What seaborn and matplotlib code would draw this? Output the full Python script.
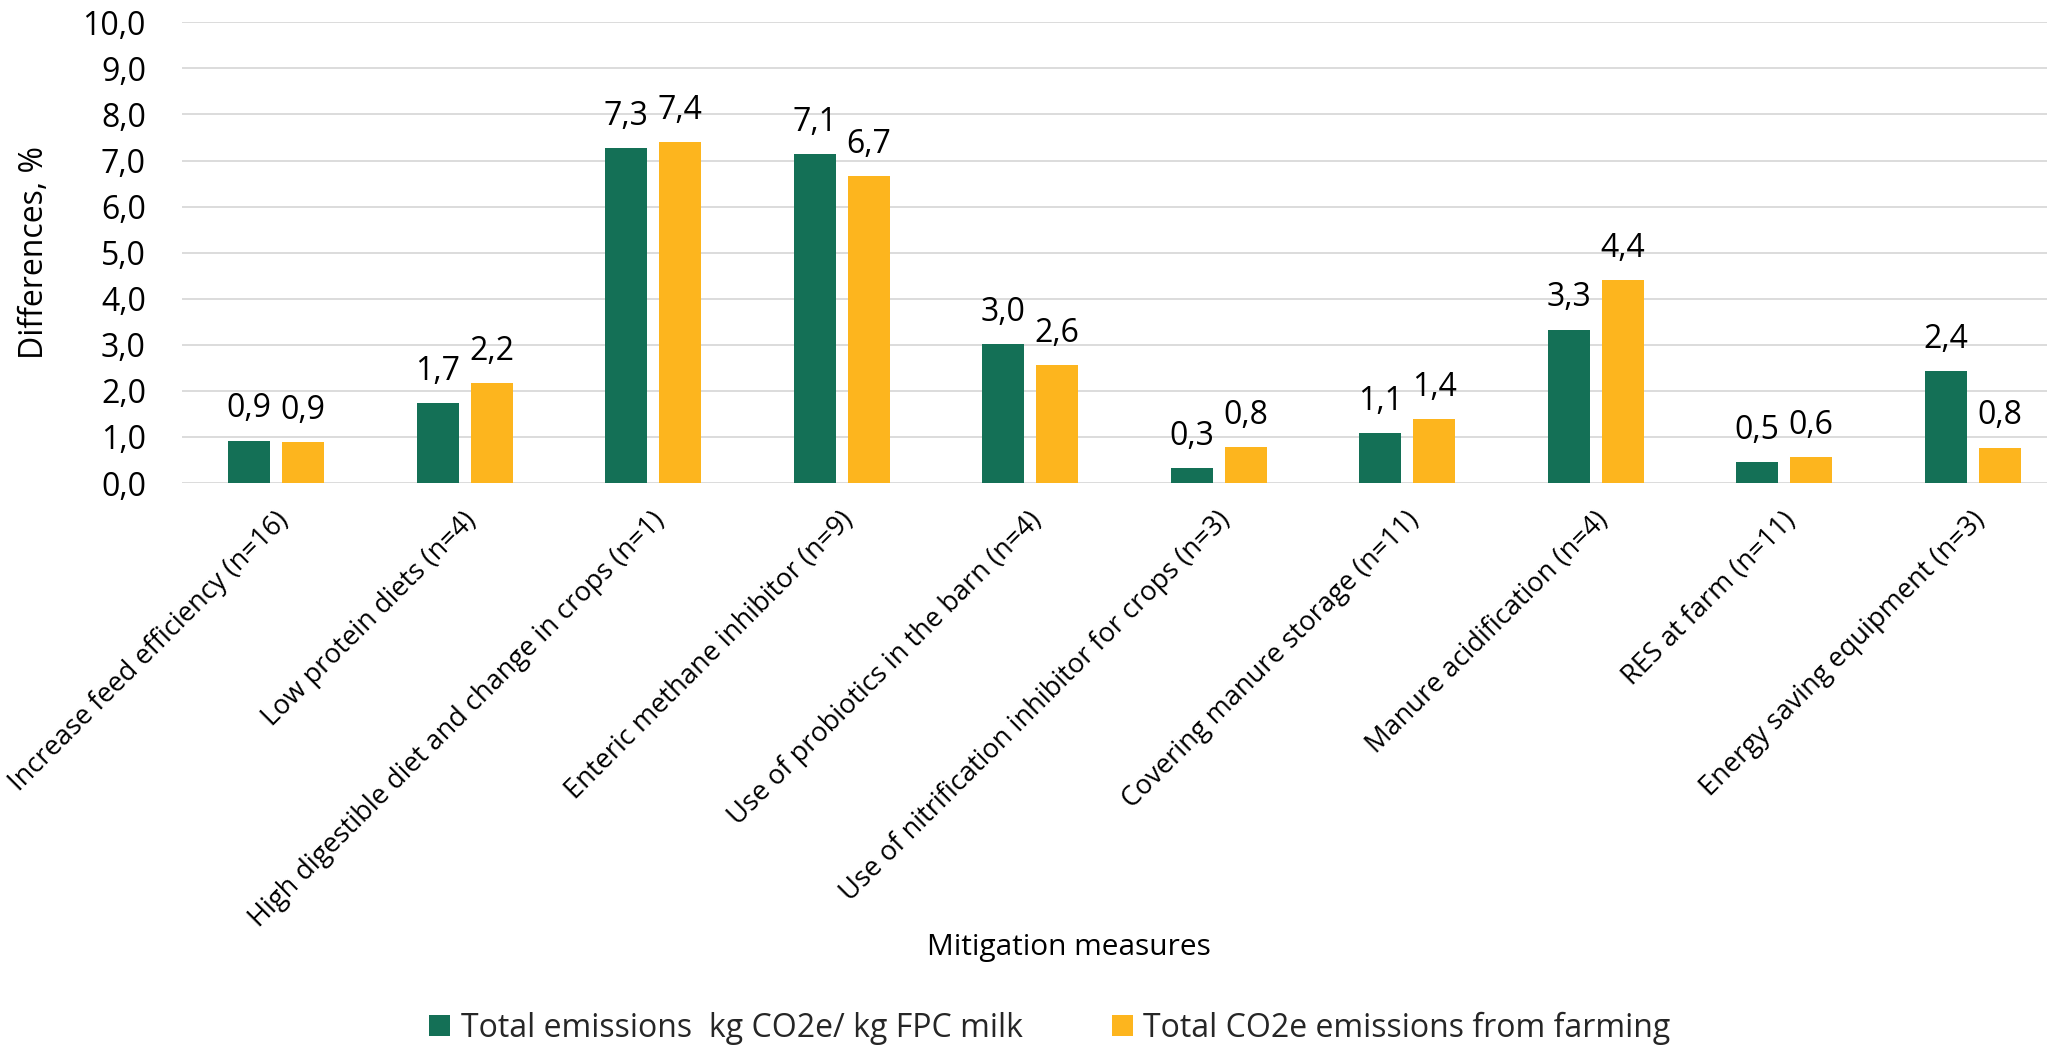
import matplotlib
matplotlib.use("Agg")
import matplotlib.pyplot as plt
import matplotlib.transforms as mtransforms
from matplotlib.patches import Patch
import seaborn as sns
import pandas as pd

# Mitigation measures and their reductions (%)
measures = [
    "Increase feed efficiency (n=16)",
    "Low protein diets (n=4)",
    "High digestible diet and change in crops (n=1)",
    "Enteric methane inhibitor (n=9)",
    "Use of probiotics in the barn (n=4)",
    "Use of nitrification inhibitor for crops (n=3)",
    "Covering manure storage (n=11)",
    "Manure acidification (n=4)",
    "RES at farm (n=11)",
    "Energy saving equipment (n=3)",
]
series_names = [
    "Total emissions  kg CO2e/ kg FPC milk",
    "Total CO2e emissions from farming",
]
per_kg_milk = [0.92, 1.74, 7.27, 7.14, 3.02, 0.33, 1.08, 3.33, 0.46, 2.43]
farm_total = [0.88, 2.16, 7.40, 6.66, 2.56, 0.78, 1.39, 4.40, 0.56, 0.77]
y_ticks = [0, 1, 2, 3, 4, 5, 6, 7, 8, 9, 10]

colors = ["#147056", "#FDB51E"]

df = pd.DataFrame({
    "measure": measures * 2,
    "series": [series_names[0]] * len(measures) + [series_names[1]] * len(measures),
    "value": per_kg_milk + farm_total,
})

sns.set_theme(style="white")
plt.rcParams["font.family"] = ["Open Sans", "DejaVu Sans"]

W, H = 2047, 1047
fig = plt.figure(figsize=(W / 100, H / 100), dpi=100)
ax_left, ax_right, ax_top, ax_bottom = 182, 2067, 22.3, 483
ax = fig.add_axes([ax_left / W, 1 - ax_bottom / H,
                   (ax_right - ax_left) / W, (ax_bottom - ax_top) / H])

sns.barplot(data=df, x="measure", y="value", hue="series",
            hue_order=series_names, palette=colors, order=measures,
            width=0.573, gap=0.222, linewidth=0, edgecolor="none",
            saturation=1, errorbar=None, legend=False, ax=ax, zorder=3)

ax.set_xlim(-0.5, len(measures) - 0.5)
ax.set_ylim(0, 10)
ax.set_yticks(y_ticks)
ax.set_yticklabels([f"{v:.1f}".replace(".", ",") for v in y_ticks], fontsize=23)
ax.grid(axis="y", color="#D9D9D9", linewidth=1.3, zorder=0)
ax.grid(axis="x", visible=False)
for s in ax.spines.values():
    s.set_visible(False)
ax.tick_params(axis="y", length=0, pad=26, colors="black")
ax.tick_params(axis="x", length=0, pad=24, colors="black")

# value labels above every bar
for cont in ax.containers:
    ax.bar_label(cont, labels=[f"{b.get_height():.1f}".replace(".", ",") for b in cont],
                 padding=11, fontsize=23, color="black")

# rotated category labels
offset = mtransforms.ScaledTranslation(8 / 100, 0, fig.dpi_scale_trans)
for lbl in ax.get_xticklabels():
    lbl.set_rotation(45)
    lbl.set_ha("right")
    lbl.set_va("center")
    lbl.set_rotation_mode("anchor")
    lbl.set_fontsize(19.5)
    lbl.set_transform(lbl.get_transform() + offset)

ax.set_xlabel("")
ax.set_ylabel("Differences, %", fontsize=23, color="black")
ax.yaxis.set_label_coords((51 - ax_left) / (ax_right - ax_left), 0.5)

fig.text(1069 / W, 1 - 955 / H, "Mitigation measures", fontsize=21.5,
         ha="center", va="baseline", color="black")

handles = [Patch(facecolor=c, edgecolor="none") for c in colors]
fig.legend(handles, series_names, loc="center", ncol=2,
           bbox_to_anchor=(1050 / W, 1 - 1028 / H), frameon=False,
           fontsize=23, handlelength=0.65, handleheight=0.65,
           handletextpad=0.33, columnspacing=2.8, borderpad=0, borderaxespad=0)

fig.savefig("out.png", dpi=100, facecolor="white")
